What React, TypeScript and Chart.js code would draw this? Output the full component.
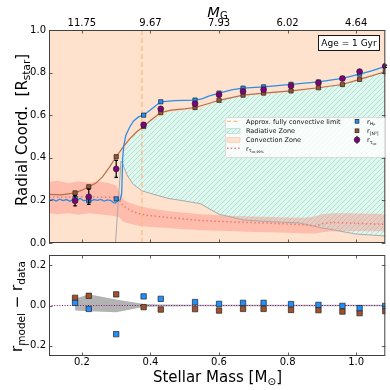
import React, { useEffect, useRef } from "react";
import { Chart, registerables } from "chart.js";
Chart.register(...registerables);

// ---------------- data ----------------
const X_MIN = 0.104;
const X_MAX = 1.085;
const MASS_TICKS = [0.2, 0.4, 0.6, 0.8, 1.0];
const MG_TICK_LABELS = ["11.75", "9.67", "7.93", "6.02", "4.64"];
const R_TICKS = [0, 0.2, 0.4, 0.6, 0.8, 1.0];
const RES_TICKS = [-0.2, 0, 0.2];
const FC_LIMIT = 0.375;
const AGE_LABEL = "Age = 1 Gyr";

// observed stars
const STAR_MASS = [0.18, 0.22, 0.30, 0.38, 0.43, 0.53, 0.60, 0.67, 0.73, 0.81, 0.89, 0.96, 1.01, 1.085];
const R_TAU = [0.198, 0.217, 0.348, 0.555, 0.630, 0.654, 0.696, 0.712, 0.720, 0.738, 0.752, 0.772, 0.805, 0.830];
const R_TAU_ERR = [0.024, 0.036, 0.04, 0.01, 0.007, 0.005, 0.005, 0.005, 0.005, 0.005, 0.005, 0.005, 0.005, 0.005];
const R_HP = [0.210, 0.199, 0.207, 0.600, 0.663, 0.671, 0.704, 0.727, 0.733, 0.745, 0.756, 0.773, 0.793, 0.829];
const R_N2 = [0.235, 0.264, 0.405, 0.547, 0.612, 0.636, 0.670, 0.694, 0.704, 0.714, 0.729, 0.744, 0.768, 0.804];

// residuals (bottom panel)
const RES_HP = [0.013, -0.017, -0.142, 0.045, 0.033, 0.017, 0.008, 0.013, 0.013, 0.007, 0.003, -0.002, -0.013, -0.002];
const RES_N2 = [0.038, 0.048, 0.055, -0.008, -0.020, -0.018, -0.025, -0.017, -0.017, -0.022, -0.023, -0.030, -0.038, -0.028];
const RES_BAND_UP = [0.033, 0.056, 0.03, 0.007, 0.005, 0.004, 0.004, 0.004, 0.004, 0.004, 0.004, 0.004, 0.004, 0.004];
const RES_BAND_LO = [-0.025, -0.028, -0.034, -0.007, -0.005, -0.004, -0.004, -0.004, -0.004, -0.004, -0.004, -0.004, -0.004, -0.004];

// model r_HP line
const HP_LINE_MASS = [0.104, 0.115, 0.125, 0.135, 0.145, 0.155, 0.165, 0.175, 0.185, 0.195, 0.205, 0.215, 0.225, 0.235, 0.245, 0.255, 0.265, 0.275, 0.285, 0.292, 0.298, 0.305, 0.312, 0.316, 0.319, 0.322, 0.328, 0.338, 0.35, 0.365, 0.38, 0.405, 0.43, 0.47, 0.53, 0.55, 0.57, 0.60, 0.64, 0.67, 0.73, 0.81, 0.89, 0.96, 1.01, 1.045, 1.085];
const HP_LINE_R = [0.200, 0.205, 0.197, 0.206, 0.199, 0.204, 0.196, 0.207, 0.200, 0.210, 0.198, 0.203, 0.196, 0.204, 0.200, 0.205, 0.197, 0.202, 0.199, 0.190, 0.188, 0.200, 0.203, 0.230, 0.400, 0.455, 0.505, 0.540, 0.572, 0.592, 0.600, 0.632, 0.663, 0.668, 0.671, 0.677, 0.690, 0.704, 0.720, 0.727, 0.733, 0.745, 0.756, 0.773, 0.793, 0.808, 0.829];

// model r_[N2] line
const N2_LINE_MASS = [0.104, 0.14, 0.18, 0.20, 0.22, 0.24, 0.26, 0.28, 0.30, 0.32, 0.34, 0.36, 0.38, 0.40, 0.43, 0.46, 0.50, 0.53, 0.57, 0.60, 0.67, 0.73, 0.81, 0.89, 0.96, 1.01, 1.085];
const N2_LINE_R = [0.228, 0.226, 0.235, 0.248, 0.264, 0.280, 0.310, 0.355, 0.405, 0.450, 0.490, 0.522, 0.547, 0.575, 0.612, 0.624, 0.630, 0.636, 0.655, 0.670, 0.694, 0.704, 0.714, 0.729, 0.744, 0.768, 0.804];

// radiative zone boundaries
const CORE_ONSET_MASS = 0.298;
const RAD_MASS = [0.314, 0.318, 0.325, 0.335, 0.35, 0.375, 0.40, 0.45, 0.50, 0.545, 0.60, 0.67, 0.75, 0.835, 0.90, 1.0, 1.085];
const RAD_TOP = [0.385, 0.415, 0.44, 0.47, 0.50, 0.535, 0.57, 0.612, 0.622, 0.630, 0.668, 0.690, 0.700, 0.712, 0.727, 0.758, 0.802];
const RAD_BOTTOM = [0.385, 0.375, 0.345, 0.31, 0.275, 0.245, 0.233, 0.21, 0.197, 0.185, 0.135, 0.108, 0.100, 0.094, 0.071, 0.042, 0.033];

// r_tau_co,99% band and line
const PINK_MASS = [0.104, 0.13, 0.16, 0.19, 0.22, 0.25, 0.28, 0.30, 0.31, 0.32, 0.34, 0.37, 0.40, 0.45, 0.50, 0.55, 0.60, 0.65, 0.70, 0.75, 0.80, 0.85, 0.88, 0.90, 0.93, 0.97, 1.01, 1.05, 1.085];
const PINK_TOP = [0.288, 0.292, 0.282, 0.290, 0.283, 0.290, 0.280, 0.270, 0.240, 0.205, 0.188, 0.172, 0.162, 0.150, 0.142, 0.135, 0.130, 0.127, 0.125, 0.122, 0.120, 0.118, 0.125, 0.135, 0.140, 0.140, 0.138, 0.137, 0.135];
const PINK_BOTTOM = [0.140, 0.135, 0.140, 0.133, 0.140, 0.135, 0.130, 0.125, 0.120, 0.100, 0.090, 0.080, 0.075, 0.070, 0.065, 0.060, 0.058, 0.055, 0.052, 0.050, 0.048, 0.045, 0.045, 0.050, 0.055, 0.055, 0.055, 0.055, 0.055];
const TAU99_MASS = [0.104, 0.15, 0.20, 0.25, 0.30, 0.31, 0.32, 0.35, 0.39, 0.45, 0.55, 0.65, 0.75, 0.85, 0.88, 0.90, 0.93, 1.0, 1.085];
const TAU99_R = [0.215, 0.215, 0.218, 0.215, 0.215, 0.200, 0.175, 0.145, 0.130, 0.120, 0.105, 0.098, 0.093, 0.085, 0.080, 0.090, 0.097, 0.092, 0.088];

// ---------------- styles ----------------
const FONT = "'DejaVu Sans', sans-serif";
const PEACH = "#fee2cd";
const HATCH_BG = "#def8ef";
const HATCH_LINE = "#acd7c9";
const PINK = "rgba(255,125,115,0.36)";
const BLUE = "#1e90ff";
const BLUE_LINE = "#2b8de8";
const BROWN = "#a0522d";
const BROWN_LINE = "#b46e4b";
const PURPLE = "#800080";
const ORANGE = "#ffbd7d";
const RED_DOT = "#f07b70";

const pts = (xs: number[], ys: number[]) => xs.map((x, i) => ({ x, y: ys[i] }));

function makeHatch() {
  const c = document.createElement("canvas");
  c.width = 5;
  c.height = 5;
  const g = c.getContext("2d")!;
  g.fillStyle = HATCH_BG;
  g.fillRect(0, 0, 5, 5);
  g.strokeStyle = HATCH_LINE;
  g.lineWidth = 0.8;
  g.beginPath();
  g.moveTo(0, 5);
  g.lineTo(5, 0);
  g.moveTo(-1, 1);
  g.lineTo(1, -1);
  g.moveTo(4, 6);
  g.lineTo(6, 4);
  g.stroke();
  return g.createPattern(c, "repeat")!;
}

type Part = [string, number, number, boolean?];
function rich(ctx: CanvasRenderingContext2D, x: number, y: number, parts: Part[], center = false) {
  let total = 0;
  for (const p of parts) {
    ctx.font = `${p[3] ? "italic " : ""}${p[1]}px ${FONT}`;
    total += ctx.measureText(p[0]).width;
  }
  let cx = center ? x - total / 2 : x;
  ctx.textAlign = "left";
  ctx.textBaseline = "alphabetic";
  for (const p of parts) {
    ctx.font = `${p[3] ? "italic " : ""}${p[1]}px ${FONT}`;
    ctx.fillText(p[0], cx, y + p[2]);
    cx += ctx.measureText(p[0]).width;
  }
}

function drawFrame(chart: any, xVals: number[], yVals: number[]) {
  const { ctx, chartArea: a, scales } = chart;
  const xs = scales.x;
  const ys = scales.y;
  ctx.save();
  ctx.strokeStyle = "#3a3a3a";
  ctx.lineWidth = 0.8;
  ctx.beginPath();
  for (const v of xVals) {
    const px = Math.round(xs.getPixelForValue(v)) + 0.5;
    ctx.moveTo(px, a.top);
    ctx.lineTo(px, a.top + 3.5);
    ctx.moveTo(px, a.bottom);
    ctx.lineTo(px, a.bottom - 3.5);
  }
  for (const v of yVals) {
    const py = Math.round(ys.getPixelForValue(v)) + 0.5;
    ctx.moveTo(a.left, py);
    ctx.lineTo(a.left + 3.5, py);
    ctx.moveTo(a.right, py);
    ctx.lineTo(a.right - 3.5, py);
  }
  ctx.stroke();
  ctx.strokeStyle = "#404040";
  ctx.lineWidth = 1;
  ctx.strokeRect(a.left + 0.5, a.top + 0.5, a.right - a.left - 1, a.bottom - a.top - 1);
  ctx.restore();
}

function square(ctx: CanvasRenderingContext2D, x: number, y: number, s: number, fill: string) {
  ctx.fillStyle = fill;
  ctx.fillRect(x - s / 2, y - s / 2, s, s);
  ctx.strokeStyle = "#202020";
  ctx.lineWidth = 0.7;
  ctx.strokeRect(x - s / 2, y - s / 2, s, s);
}

function drawLegend(ctx: CanvasRenderingContext2D, hatch: CanvasPattern) {
  ctx.save();
  const x0 = 225, y0 = 117, w = 160, h = 40;
  ctx.beginPath();
  (ctx as any).roundRect(x0 + 0.5, y0 + 0.5, w, h, 2);
  ctx.fillStyle = "rgba(255,255,255,0.8)";
  ctx.fill();
  ctx.strokeStyle = "#d4d4d4";
  ctx.lineWidth = 0.8;
  ctx.stroke();
  const rows = [121.3, 130.8, 139.8, 148.3];
  const hx0 = 227, hx1 = 240;
  ctx.strokeStyle = ORANGE;
  ctx.lineWidth = 1.3;
  ctx.setLineDash([4, 2.5]);
  ctx.beginPath();
  ctx.moveTo(hx0, rows[0]);
  ctx.lineTo(hx1, rows[0]);
  ctx.stroke();
  ctx.setLineDash([]);
  ctx.fillStyle = hatch;
  ctx.fillRect(hx0, rows[1] - 2.5, hx1 - hx0, 5);
  ctx.strokeStyle = HATCH_LINE;
  ctx.lineWidth = 0.6;
  ctx.strokeRect(hx0, rows[1] - 2.5, hx1 - hx0, 5);
  ctx.fillStyle = PEACH;
  ctx.fillRect(hx0, rows[2] - 2.5, hx1 - hx0, 5);
  ctx.strokeStyle = "#f6c7a3";
  ctx.strokeRect(hx0, rows[2] - 2.5, hx1 - hx0, 5);
  ctx.strokeStyle = RED_DOT;
  ctx.lineWidth = 1.4;
  ctx.setLineDash([1.5, 2.2]);
  ctx.beginPath();
  ctx.moveTo(hx0, rows[3]);
  ctx.lineTo(hx1, rows[3]);
  ctx.stroke();
  ctx.setLineDash([]);
  ctx.fillStyle = "#111";
  const tx = 246, fs = 6.5, off = 2.3;
  rich(ctx, tx, rows[0] + off, [["Approx. fully convective limit", fs, 0]]);
  rich(ctx, tx, rows[1] + off, [["Radiative Zone", fs, 0]]);
  rich(ctx, tx, rows[2] + off, [["Convection Zone", fs, 0]]);
  rich(ctx, tx, rows[3] + off, [["r", fs, 0], ["τ", 4.6, 1.4], ["co,99%", 3.4, 2.4]]);
  const mx = 357;
  square(ctx, mx, rows[0], 3.8, BLUE);
  square(ctx, mx, rows[1], 3.8, BROWN);
  ctx.strokeStyle = "#000";
  ctx.lineWidth = 1;
  ctx.beginPath();
  ctx.moveTo(mx, rows[2] - 4);
  ctx.lineTo(mx, rows[2] + 4);
  ctx.stroke();
  ctx.beginPath();
  ctx.arc(mx, rows[2], 2.8, 0, Math.PI * 2);
  ctx.fillStyle = PURPLE;
  ctx.fill();
  ctx.strokeStyle = "#222";
  ctx.lineWidth = 0.7;
  ctx.stroke();
  ctx.fillStyle = "#111";
  const tx2 = 367;
  rich(ctx, tx2, rows[0] + off, [["r", fs, 0], ["H", 4.6, 1.4], ["P", 3.4, 2.4]]);
  rich(ctx, tx2, rows[1] + off, [["r", fs, 0], ["[N²]", 4.6, 1.4]]);
  rich(ctx, tx2, rows[2] + off, [["r", fs, 0], ["τ", 4.6, 1.4], ["co", 3.4, 2.4]]);
  ctx.restore();
}

const noPad = (s: any) => {
  s.paddingTop = 0;
  s.paddingBottom = 0;
  s.paddingLeft = 0;
  s.paddingRight = 0;
};

function topConfig(hatch: CanvasPattern): any {
  const PURPLE_IDX = 11;
  const datasets: any[] = [
    { data: pts(RAD_MASS, RAD_TOP), fill: "+1", backgroundColor: hatch, borderWidth: 0, pointRadius: 0, order: 20 },
    { data: pts(RAD_MASS, RAD_BOTTOM), fill: false, borderWidth: 0, pointRadius: 0, order: 20 },
    { data: pts(PINK_MASS, PINK_TOP), fill: "+1", backgroundColor: PINK, borderWidth: 0, pointRadius: 0, order: 19 },
    { data: pts(PINK_MASS, PINK_BOTTOM), fill: false, borderWidth: 0, pointRadius: 0, order: 19 },
    { data: [{ x: CORE_ONSET_MASS, y: 0 }, ...pts(RAD_MASS, RAD_BOTTOM)], borderColor: "#a9a9a9", borderWidth: 1, pointRadius: 0, order: 18 },
    { data: [{ x: FC_LIMIT, y: 0 }, { x: FC_LIMIT, y: 1 }], borderColor: ORANGE, borderDash: [5, 3], borderWidth: 1.3, pointRadius: 0, order: 17 },
    { data: pts(TAU99_MASS, TAU99_R), borderColor: RED_DOT, borderDash: [1.5, 2.5], borderWidth: 1.5, pointRadius: 0, order: 16 },
    { data: pts(N2_LINE_MASS, N2_LINE_R), borderColor: BROWN_LINE, borderWidth: 1.2, pointRadius: 0, order: 15 },
    { data: pts(HP_LINE_MASS, HP_LINE_R), borderColor: BLUE_LINE, borderWidth: 1.3, pointRadius: 0, order: 14 },
    { data: pts(STAR_MASS, R_N2), showLine: false, pointStyle: "rect", pointRadius: 3, backgroundColor: BROWN, borderColor: "#202020", borderWidth: 0.7, order: 3, clip: 0 },
    { data: pts(STAR_MASS, R_HP), showLine: false, pointStyle: "rect", pointRadius: 3, backgroundColor: BLUE, borderColor: "#202020", borderWidth: 0.7, order: 2, clip: 0 },
    { data: pts(STAR_MASS, R_TAU), showLine: false, pointStyle: "circle", pointRadius: 2.9, backgroundColor: PURPLE, borderColor: "#222", borderWidth: 0.7, order: 1, clip: 0 },
  ];
  const plugin = {
    id: "topDecor",
    beforeDatasetsDraw(chart: any) {
      const { ctx, chartArea: a } = chart;
      ctx.save();
      ctx.fillStyle = PEACH;
      ctx.fillRect(a.left, a.top, a.right - a.left, a.bottom - a.top);
      ctx.restore();
    },
    beforeDatasetDraw(chart: any, args: any) {
      if (args.index !== PURPLE_IDX) return;
      const { ctx, scales } = chart;
      ctx.save();
      ctx.strokeStyle = "#000";
      ctx.lineWidth = 1.2;
      ctx.beginPath();
      STAR_MASS.forEach((m, i) => {
        const x = scales.x.getPixelForValue(m);
        const y1 = scales.y.getPixelForValue(R_TAU[i] - R_TAU_ERR[i]);
        const y2 = scales.y.getPixelForValue(R_TAU[i] + R_TAU_ERR[i]);
        ctx.moveTo(x, y1);
        ctx.lineTo(x, y2);
        ctx.moveTo(x - 1.8, y1);
        ctx.lineTo(x + 1.8, y1);
        ctx.moveTo(x - 1.8, y2);
        ctx.lineTo(x + 1.8, y2);
      });
      ctx.stroke();
      ctx.restore();
    },
    afterDraw(chart: any) {
      const { ctx } = chart;
      drawFrame(chart, MASS_TICKS, R_TICKS);
      drawLegend(ctx, hatch);
      ctx.save();
      ctx.fillStyle = "#fff";
      ctx.fillRect(318.5, 35.5, 61, 15);
      ctx.strokeStyle = "#000";
      ctx.lineWidth = 0.9;
      ctx.strokeRect(318.5, 35.5, 61, 15);
      ctx.fillStyle = "#000";
      ctx.font = `9px ${FONT}`;
      ctx.textAlign = "center";
      ctx.textBaseline = "middle";
      ctx.fillText(AGE_LABEL, 349, 43.3);
      ctx.fillStyle = "#000";
      rich(ctx, 217.5, 16.5, [["M", 14.5, 0, true], ["G", 10, 2.6]], true);
      ctx.translate(27, 130);
      ctx.rotate(-Math.PI / 2);
      rich(ctx, 0, 0, [["Radial Coord.  [R", 15, 0], ["star", 10.5, 3.2], ["]", 15, 0]], true);
      ctx.restore();
    },
  };
  return {
    type: "line",
    data: { datasets },
    options: {
      responsive: false,
      animation: false,
      devicePixelRatio: 1,
      events: [],
      layout: { padding: { left: 0, right: 4, top: 0, bottom: 7 } },
      elements: { line: { tension: 0 } },
      plugins: { legend: { display: false }, tooltip: { enabled: false } },
      scales: {
        x: { type: "linear", min: X_MIN, max: X_MAX, display: false },
        x2: {
          type: "linear",
          position: "top",
          min: X_MIN,
          max: X_MAX,
          grid: { display: false, drawTicks: false },
          border: { display: false },
          afterBuildTicks: (s: any) => { s.ticks = MASS_TICKS.map((v) => ({ value: v })); },
          afterFit: (s: any) => { s.height = 30; noPad(s); },
          ticks: {
            autoSkip: false,
            maxRotation: 0,
            padding: 1,
            color: "#000",
            font: { size: 10, family: FONT },
            callback: (_v: any, i: number) => MG_TICK_LABELS[i],
          },
        },
        y: {
          type: "linear",
          min: 0,
          max: 1,
          grid: { display: false, drawTicks: false },
          border: { display: false },
          afterBuildTicks: (s: any) => { s.ticks = R_TICKS.map((v) => ({ value: v })); },
          afterFit: (s: any) => { s.width = 49; noPad(s); },
          ticks: { padding: 3, color: "#000", font: { size: 10, family: FONT }, callback: (v: any) => Number(v).toFixed(1) },
        },
      },
    },
    plugins: [plugin],
  };
}

function botConfig(): any {
  const datasets: any[] = [
    { data: pts(STAR_MASS, RES_BAND_UP), fill: "+1", backgroundColor: "#b3b3b3", borderWidth: 0, pointRadius: 0, order: 10 },
    { data: pts(STAR_MASS, RES_BAND_LO), fill: false, borderWidth: 0, pointRadius: 0, order: 10 },
    { data: [{ x: X_MIN, y: 0 }, { x: X_MAX, y: 0 }], borderColor: "#7a1a7a", borderDash: [1, 1.6], borderWidth: 1, pointRadius: 0, order: 5 },
    { data: pts(STAR_MASS, RES_N2), showLine: false, pointStyle: "rect", pointRadius: 3.8, backgroundColor: BROWN, borderColor: "#202020", borderWidth: 0.7, order: 3, clip: 0 },
    { data: pts(STAR_MASS, RES_HP), showLine: false, pointStyle: "rect", pointRadius: 3.8, backgroundColor: BLUE, borderColor: "#202020", borderWidth: 0.7, order: 2, clip: 0 },
  ];
  const plugin = {
    id: "botDecor",
    afterDraw(chart: any) {
      const { ctx } = chart;
      drawFrame(chart, MASS_TICKS, RES_TICKS);
      ctx.save();
      ctx.fillStyle = "#000";
      rich(ctx, 217.5, 131.7, [["Stellar Mass [M", 15, 0], ["⊙", 10.5, 3], ["]", 15, 0]], true);
      ctx.translate(22, 56.5);
      ctx.rotate(-Math.PI / 2);
      rich(ctx, 0, 0, [["r", 15, 0], ["model", 10.5, 3.2], [" − ", 15, 0], ["r", 15, 0], ["data", 10.5, 3.2]], true);
      ctx.restore();
    },
  };
  return {
    type: "line",
    data: { datasets },
    options: {
      responsive: false,
      animation: false,
      devicePixelRatio: 1,
      events: [],
      layout: { padding: { left: 0, right: 4, top: 5, bottom: 0 } },
      elements: { line: { tension: 0 } },
      plugins: { legend: { display: false }, tooltip: { enabled: false } },
      scales: {
        x: {
          type: "linear",
          min: X_MIN,
          max: X_MAX,
          grid: { display: false, drawTicks: false },
          border: { display: false },
          afterBuildTicks: (s: any) => { s.ticks = MASS_TICKS.map((v) => ({ value: v })); },
          afterFit: (s: any) => { s.height = 34; noPad(s); },
          ticks: { autoSkip: false, maxRotation: 0, padding: 0, color: "#000", font: { size: 10, family: FONT }, callback: (v: any) => Number(v).toFixed(1) },
        },
        y: {
          type: "linear",
          min: -0.25,
          max: 0.25,
          grid: { display: false, drawTicks: false },
          border: { display: false },
          afterBuildTicks: (s: any) => { s.ticks = RES_TICKS.map((v) => ({ value: v })); },
          afterFit: (s: any) => { s.width = 49; noPad(s); },
          ticks: {
            padding: 3,
            color: "#000",
            font: { size: 10, family: FONT },
            callback: (v: any) => (Number(v) < 0 ? "−" + Math.abs(Number(v)).toFixed(1) : Number(v).toFixed(1)),
          },
        },
      },
    },
    plugins: [plugin],
  };
}

export default function App() {
  const topRef = useRef<HTMLCanvasElement>(null);
  const botRef = useRef<HTMLCanvasElement>(null);
  useEffect(() => {
    Chart.defaults.font.family = FONT;
    Chart.defaults.color = "#000";
    const hatch = makeHatch();
    const top = new Chart(topRef.current!, topConfig(hatch));
    const bot = new Chart(botRef.current!, botConfig());
    return () => {
      top.destroy();
      bot.destroy();
    };
  }, []);
  return (
    <div style={{ position: "absolute", left: 0, top: 0, width: 390, height: 390, background: "#fff" }}>
      <canvas ref={topRef} width={390} height={250} style={{ position: "absolute", left: 0, top: 0 }} />
      <canvas ref={botRef} width={390} height={140} style={{ position: "absolute", left: 0, top: 250 }} />
    </div>
  );
}
